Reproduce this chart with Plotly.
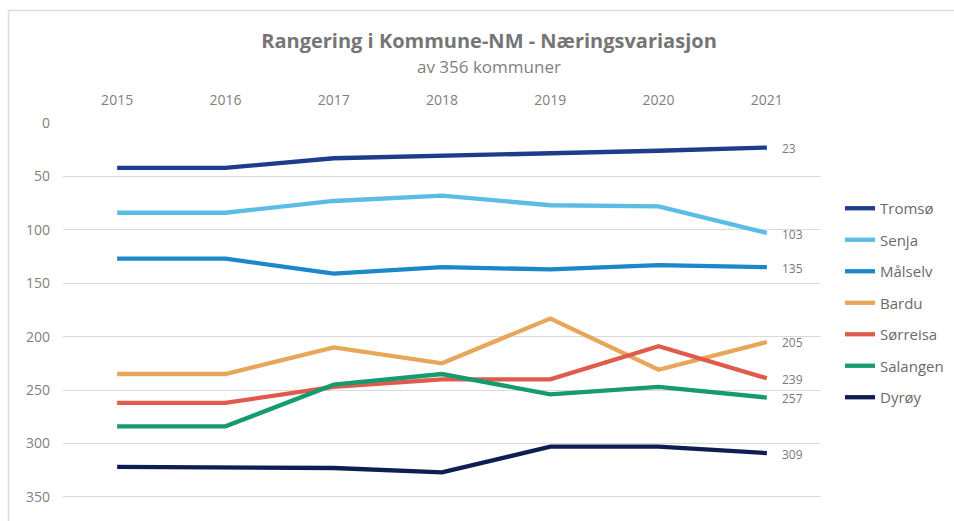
import plotly.graph_objects as go

# Ranking per year (lower is better), out of 356 municipalities
years = ["2015", "2016", "2017", "2018", "2019", "2020", "2021"]

tromso = [42, 42, 33, 31, 28, 26, 23]
senja = [84, 84, 73, 68, 77, 78, 103]
malselv = [127, 127, 141, 135, 137, 133, 135]
bardu = [235, 235, 210, 225, 183, 231, 205]
sorreisa = [262, 262, 247, 240, 240, 209, 239]
salangen = [284, 284, 245, 235, 254, 247, 257]
dyroy = [322, 322, 323, 327, 303, 303, 309]

names = ["Tromsø", "Senja", "Målselv", "Bardu", "Sørreisa", "Salangen", "Dyrøy"]
series = [tromso, senja, malselv, bardu, sorreisa, salangen, dyroy]
colors = ["#1E3C8C", "#5BBDE4", "#1C87C9", "#E8A65A", "#E15B4C", "#169A6F", "#0E1E52"]

FONT = "Open Sans"
GRAY = "#7f7f7f"

W, H = 954, 521
L, R, T, B = 63, 133, 123, 22
PW, PH = W - L - R, H - T - B


def px_x(p):
    return (p - L) / PW


def px_y(p):
    return (H - B - p) / PH


fig = go.Figure()

for name, vals, col in zip(names, series, colors):
    fig.add_trace(go.Scatter(
        x=years, y=vals, name=name, mode="lines",
        line=dict(color=col, width=4.3),
        legendgroup=name,
    ))

# value labels at the last year
last = len(years) - 1
annotations = []
for vals in series:
    annotations.append(dict(
        x=last, y=vals[-1], xref="x", yref="y",
        text=str(vals[-1]), showarrow=False,
        xanchor="left", yanchor="middle", xshift=13, yshift=-1,
        font=dict(family=FONT, size=12, color="#7a7a7a"),
    ))

annotations.append(dict(
    x=px_x(489), y=px_y(67), xref="paper", yref="paper",
    text="av 356 kommuner", showarrow=False,
    xanchor="center", yanchor="middle",
    font=dict(family=FONT, size=17, color=GRAY),
))

# chart frame (top and left edges)
shapes = [
    dict(type="line", xref="paper", yref="paper",
         x0=px_x(8.5), x1=px_x(W + 5), y0=px_y(10.5), y1=px_y(10.5),
         line=dict(color="#dcdcdc", width=1.5)),
    dict(type="line", xref="paper", yref="paper",
         x0=px_x(8.5), x1=px_x(8.5), y0=px_y(10.5), y1=px_y(H + 5),
         line=dict(color="#dcdcdc", width=1.5)),
]

fig.update_layout(
    width=W, height=H,
    margin=dict(l=L, r=R, t=T, b=B, autoexpand=False),
    paper_bgcolor="white", plot_bgcolor="white",
    font=dict(family=FONT, color=GRAY),
    title=dict(
        text="<b>Rangering i Kommune-NM - Næringsvariasjon</b>",
        x=489 / W, xanchor="center",
        y=1 - 41 / H, yanchor="middle", yref="container",
        font=dict(family=FONT, size=20, color="#757575"),
    ),
    xaxis=dict(
        type="category", side="top", range=[-0.5, 6.5],
        showgrid=False, zeroline=False, showline=False,
        ticks="", ticklabelstandoff=14,
        tickfont=dict(family=FONT, size=14, color=GRAY),
    ),
    yaxis=dict(
        range=[352, 0], tick0=0, dtick=50,
        showgrid=True, gridcolor="#d9d9d9", gridwidth=1,
        zeroline=False, showline=False, ticks="",
        ticklabelstandoff=12,
        tickfont=dict(family=FONT, size=14, color=GRAY),
    ),
    legend=dict(
        x=px_x(840), y=px_y(192), xanchor="left", yanchor="top",
        traceorder="grouped", tracegroupgap=9,
        font=dict(family=FONT, size=15, color="#6a6a6a"),
        bgcolor="rgba(0,0,0,0)",
    ),
    annotations=annotations,
    shapes=shapes,
)

fig.write_html("out.html")
